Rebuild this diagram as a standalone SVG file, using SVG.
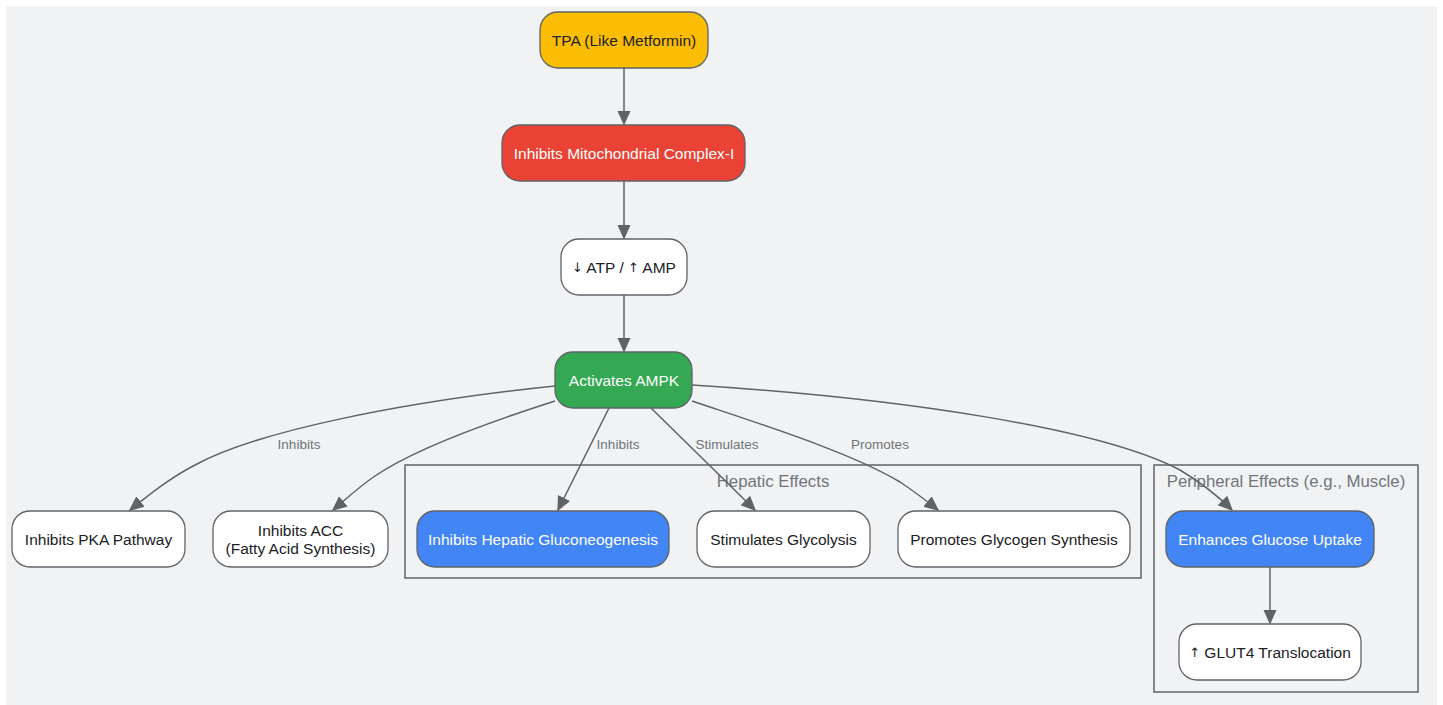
<svg xmlns="http://www.w3.org/2000/svg" width="1443" height="705" viewBox="0 0 1443 705">
<defs>
<marker id="arr" viewBox="0 0 10 10" refX="9" refY="5" markerWidth="15" markerHeight="15" markerUnits="userSpaceOnUse" orient="auto">
<path d="M0,0.5 L10,5 L0,9.5 z" fill="#5f6368"/>
</marker>
<style>
.node rect{stroke:#5f6368;stroke-width:1.3}
.nt{font-family:"Liberation Sans",Arial,sans-serif;font-size:15.5px;text-anchor:middle;dominant-baseline:central;fill:#202124}
.wt{fill:#ffffff}
.ar{font-family:"DejaVu Sans","Liberation Sans",sans-serif;font-size:13px}
.edge{fill:none;stroke:#5f6368;stroke-width:1.5;marker-end:url(#arr)}
.el{font-family:"Liberation Sans",Arial,sans-serif;font-size:13.5px;text-anchor:middle;dominant-baseline:central;fill:#70757a}
.cl{fill:none;stroke:#5f6368;stroke-width:1.5}
.ct{font-family:"Liberation Sans",Arial,sans-serif;font-size:16.8px;text-anchor:middle;dominant-baseline:central;fill:#70757a}
</style>
</defs>
<rect x="0" y="0" width="1443" height="705" fill="#ffffff"/>
<rect x="6" y="6" width="1431" height="699" fill="#f1f2f4"/>
<g id="clusters">
<g id="hepatic"><rect class="cl" x="405" y="465" width="736" height="113"/><text class="ct" x="773" y="481">Hepatic Effects</text></g>
<g id="peripheral"><rect class="cl" x="1154" y="465" width="264" height="227"/><text class="ct" x="1286" y="481">Peripheral Effects (e.g., Muscle)</text></g>
</g>
<g id="connectors">
<path class="edge" d="M624,68 L624,124"/>
<path class="edge" d="M624,181 L624,238"/>
<path class="edge" d="M624,295 L624,351"/>
<path class="edge" d="M555,386 C400,402 255,432 195,465 C170,478 150,494 130,510"/>
<path class="edge" d="M555,401 C480,425 410,452 375,476 C360,486 345,500 333,510"/>
<path class="edge" d="M609,408 L558,510"/>
<path class="edge" d="M651,408 L755,510"/>
<path class="edge" d="M692,401 C760,424 850,452 900,482 C915,492 928,502 938,510"/>
<path class="edge" d="M692,385 C900,398 1100,428 1180,470 C1200,482 1218,496 1232,510"/>
<path class="edge" d="M1270,567 L1270,623"/>
<text class="el" x="299" y="444">Inhibits</text>
<text class="el" x="618" y="444">Inhibits</text>
<text class="el" x="727" y="444">Stimulates</text>
<text class="el" x="880" y="444">Promotes</text>
</g>
<g id="tpa" class="node"><rect x="540" y="12" width="168" height="56" rx="18" fill="#fbbc04"/><text class="nt" x="624" y="40" fill="#333333">TPA (Like Metformin)</text></g>
<g id="mito" class="node"><rect x="502" y="125" width="243" height="56" rx="18" fill="#ea4335"/><text class="nt wt" x="624" y="153">Inhibits Mitochondrial Complex-I</text></g>
<g id="atp" class="node"><rect x="561" y="239" width="126" height="56" rx="18" fill="#ffffff"/><text class="nt" x="624" y="267"><tspan class="ar">↓</tspan> ATP / <tspan class="ar">↑</tspan> AMP</text></g>
<g id="ampk" class="node"><rect x="555" y="352" width="137" height="56" rx="18" fill="#34a853"/><text class="nt wt" x="624" y="380">Activates AMPK</text></g>
<g id="pka" class="node"><rect x="12" y="511" width="173" height="56" rx="18" fill="#ffffff"/><text class="nt" x="98.5" y="539">Inhibits PKA Pathway</text></g>
<g id="acc" class="node"><rect x="213" y="511" width="175" height="56" rx="18" fill="#ffffff"/><text class="nt" x="300.5" y="530">Inhibits ACC</text><text class="nt" x="300.5" y="548">(Fatty Acid Synthesis)</text></g>
<g id="gluconeo" class="node"><rect x="417" y="511" width="252" height="56" rx="18" fill="#4285f4"/><text class="nt wt" x="543" y="539">Inhibits Hepatic Gluconeogenesis</text></g>
<g id="glycolysis" class="node"><rect x="697" y="511" width="173" height="56" rx="18" fill="#ffffff"/><text class="nt" x="783.5" y="539">Stimulates Glycolysis</text></g>
<g id="glycogen" class="node"><rect x="898" y="511" width="232" height="56" rx="18" fill="#ffffff"/><text class="nt" x="1014" y="539">Promotes Glycogen Synthesis</text></g>
<g id="uptake" class="node"><rect x="1166" y="511" width="208" height="56" rx="18" fill="#4285f4"/><text class="nt wt" x="1270" y="539">Enhances Glucose Uptake</text></g>
<g id="glut4" class="node"><rect x="1179" y="624" width="182" height="56" rx="18" fill="#ffffff"/><text class="nt" x="1270" y="652"><tspan class="ar">↑</tspan> GLUT4 Translocation</text></g>
</svg>
